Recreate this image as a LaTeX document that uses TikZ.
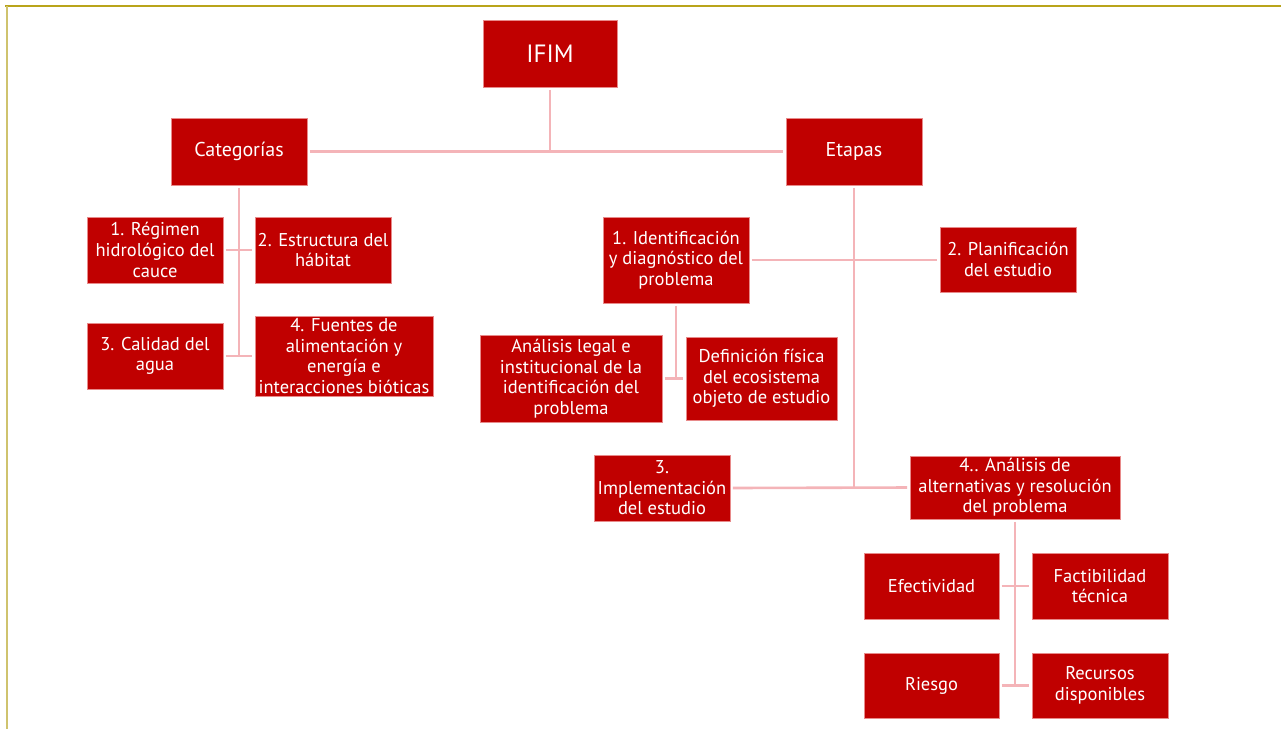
\documentclass[tikz,border=0pt]{standalone}
\usepackage{fontspec}
\setmainfont{PT Sans}
\begin{document}
\begin{tikzpicture}[x=1pt,y=-1pt,
  box/.style={rectangle, fill=boxred, draw=boxedge, line width=0.6pt, text=white, align=center, inner xsep=1pt, inner ysep=0pt,
    font=\fontsize{18.5}{20.6}\selectfont},
  conn/.style={draw=connpink, line width=2.6pt, shorten <=2.5pt, shorten >=2.5pt}
]
\definecolor{boxred}{HTML}{C00000}
\definecolor{boxedge}{HTML}{E88A8A}
\definecolor{connpink}{HTML}{F4B4B8}
\definecolor{topline}{HTML}{B9A41A}
\definecolor{leftline}{HTML}{CFC36E}
\useasboundingbox (0,0) rectangle (1281,729);
\fill[white] (0,0) rectangle (1281,729);
\draw[topline, line width=1.6pt] (5,6) -- (1281,6);
\draw[leftline, line width=2pt] (6.5,6) -- (6.5,729);

% nodes
\node[box, minimum width=134, minimum height=67, font=\fontsize{25}{28}\selectfont] (ifim) at (550,53.5) {IFIM};
\node[box, minimum width=136, minimum height=67, font=\fontsize{20}{24}\selectfont] (cat) at (239,151.5) {Categorías};
\node[box, minimum width=136, minimum height=67, font=\fontsize{20}{24}\selectfont] (eta) at (854,151.5) {Etapas};

\node[box, minimum width=136, minimum height=66] (reg) at (155,250) {1. Régimen\\hidrológico del\\cauce};
\node[box, minimum width=136, minimum height=66] (est) at (323,250) {2. Estructura del\\hábitat};
\node[box, minimum width=136, minimum height=66] (cal) at (155,356) {3. Calidad del\\agua};
\node[box, minimum width=178, minimum height=80] (fue) at (344,356) {4. Fuentes de\\alimentación y\\energía e\\interacciones bióticas};

\node[box, minimum width=146, minimum height=86] (ide) at (676,260) {1. Identificación\\y diagnóstico del\\problema};
\node[box, minimum width=136, minimum height=65] (pla) at (1008,259.5) {2. Planificación\\del estudio};
\node[box, minimum width=182, minimum height=87] (leg) at (571,378.5) {Análisis legal e\\institucional de la\\identificación del\\problema};
\node[box, minimum width=151, minimum height=83] (def) at (761.5,378.5) {Definición física\\del ecosistema\\objeto de estudio};

\node[box, minimum width=136, minimum height=66] (imp) at (662,488) {3.\\Implementación\\del estudio};
\node[box, minimum width=210, minimum height=63] (ana) at (1015,487.5) {4.. Análisis de\\alternativas y resolución\\del problema};

\node[box, minimum width=135, minimum height=66] (efe) at (931.5,586) {Efectividad};
\node[box, minimum width=136, minimum height=66] (fac) at (1100,586) {Factibilidad\\técnica};
\node[box, minimum width=135, minimum height=65] (rie) at (931.5,685.5) {Riesgo};
\node[box, minimum width=136, minimum height=65] (rec) at (1100,685.5) {Recursos\\disponibles};

% coordinates
\coordinate (catend) at (239,356);
\coordinate (etaend) at (854,487.5);
\coordinate (ideend) at (676,378.5);
\coordinate (anaend) at (1015,686);

% connectors
\draw[conn, shorten >=0pt] (ifim.south) -- (ifim.south |- cat.east);
\draw[conn] (cat.east) -- (eta.west);
\draw[conn, shorten >=0pt] (cat.south) -- (catend);
\draw[conn] (reg.east) -- (est.west);
\draw[conn] (cal.east) -- (fue.west);
\draw[conn, shorten >=0pt] (eta.south) -- (etaend);
\draw[conn] (ide.east) -- (ide.east -| pla.west);
\draw[conn, shorten >=0pt] (ide.south) -- (ideend);
\draw[conn] (leg.east) -- (def.west);
\draw[conn] (imp.east) -- (ana.west);
\draw[conn, shorten >=0pt] (ana.south) -- (anaend);
\draw[conn] (efe.east) -- (fac.west);
\draw[conn] (rie.east) -- (rec.west);
\end{tikzpicture}
\end{document}
